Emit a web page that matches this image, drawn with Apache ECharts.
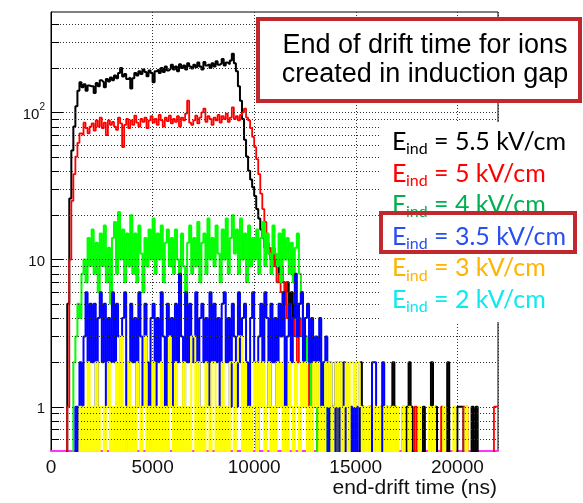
<!DOCTYPE html>
<html><head><meta charset="utf-8">
<script src="https://cdn.jsdelivr.net/npm/echarts@6/dist/echarts.min.js"></script>
<style>html,body{margin:0;padding:0;background:#fff}#c{width:583px;height:503px}</style>
</head><body><div id="c"></div>
<script>
// ---- data (100 ns bins starting at 0 ns) ----
const binWidth = 100;
const xTickLabels = [0, 5000, 10000, 15000, 20000];
const yMajorTicks = [1, 10, 100];
const yMinorTicks = [0.6, 0.7, 0.8, 0.9, 2, 3, 4, 5, 6, 7, 8, 9, 20, 30, 40, 50, 60, 70, 80, 90, 200, 300, 400];
const legendValues = ['5.5', '5', '4', '3.5', '3', '2'];
const titleLines = ['End of drift time for ions', 'created in induction gap'];
const xAxisTitle = 'end-drift time (ns)';

const eind55 = [
0,0,0,0,0,0,0,0,5,26,
55,80,110,140,160,148,155,140,152,150,
150,135,158,150,165,160,148,168,162,172,
165,178,170,185,200,175,182,168,172,145,
170,185,178,190,182,195,188,176,192,185,
160,190,195,185,200,188,205,192,198,210,
195,205,190,212,200,208,195,215,205,198,
210,202,218,205,195,220,208,212,200,215,
205,222,210,215,230,208,218,212,225,250,
215,190,150,120,90,65,50,40,35,31,
27,22,19,16,14,12,13,11,10,12,
9,10,8,9,7,6,7,5,6,4,
5,3,5,6,4,3,2,3,3,1,
2,1,0,1,1,0,1,0,1,0,
1,0,2,1,0,0,0,1,0,0,
0,0,2,1,0,0,0,1,0,0,
0,0,0,0,0,0,0,1,2,1,
0,0,0,0,0,1,2,1,0,0,
0,0,0,1,0,0,0,2,0,1,
0,0,0,0,0,2,0,0,0,0,
1,1,1,0,0,0,0,1,0,1,
0,0,0,0,0,0,0,0,0,0];

const eind5 = [
0,0,0,0,0,0,0,0,1,10,
25,38,50,62,72,70,85,78,72,80,
84,75,88,80,92,78,85,70,88,82,
86,80,76,92,84,58,82,90,78,88,
82,95,85,80,90,86,92,78,88,94,
85,90,82,96,88,80,92,87,95,84,
90,86,94,80,92,88,98,120,85,82,
88,95,84,92,100,106,86,94,90,82,
92,88,96,85,94,90,98,86,92,108,
90,94,88,96,100,106,92,88,78,68,
58,48,38,28,22,18,15,12,10,11,
9,7,8,6,5,7,4,5,3,4,
3,2,4,3,2,1,2,0,1,2,
1,0,1,0,0,1,0,0,0,1,
0,1,0,0,0,0,0,0,0,0,
0,0,0,0,0,0,1,0,0,0,
0,0,1,0,0,0,0,0,0,0,
0,0,0,1,0,0,0,0,0,1,
0,0,0,0,0,0,0,0,0,0,
0,0,1,0,0,0,0,0,0,0,
0,0,0,1,1,0,0,0,0,0,
0,0,0,0,0,0,0,0,1,1];

const eind4 = [
0,0,0,0,0,0,0,0,0,0,
0,2,3,5,4,8,10,7,14,9,
16,8,13,6,15,9,17,7,12,5,
14,18,8,21,10,16,7,15,9,20,
8,15,7,17,11,6,14,9,16,10,
19,8,15,10,17,7,13,16,9,14,
8,16,10,6,15,9,5,13,17,8,
14,9,18,7,13,15,8,19,10,14,
9,17,11,7,16,10,19,8,14,20,
11,16,8,19,10,15,7,17,9,14,
10,16,8,14,18,9,15,11,8,17,
11,9,15,7,16,10,14,8,13,7,
12,15,8,5,4,3,2,3,1,2,
1,0,1,2,1,0,1,0,0,1,
0,0,1,0,0,0,0,0,0,0,
0,0,0,0,0,0,0,0,0,0,
0,0,0,0,0,0,0,0,0,0,
0,0,0,0,0,0,0,0,0,0,
0,0,0,0,0,0,0,0,0,0,
0,0,0,0,0,0,0,0,0,0,
0,0,0,0,0,0,0,0,0,0,
0,0,0,0,0,0,0,0,0,0];

const eind35 = [
0,0,0,0,0,0,0,0,0,0,
0,0,1,0,2,1,3,6,2,5,
2,5,1,4,6,2,5,1,4,2,
6,2,5,3,1,4,6,0,2,5,
2,4,1,6,3,1,5,2,0,4,
5,1,4,2,6,3,1,5,2,4,
1,5,2,8,3,1,6,2,5,3,
2,6,1,4,5,2,4,1,6,2,
5,2,4,1,5,6,2,4,1,5,
3,1,6,2,4,5,2,1,4,6,
2,0,3,5,2,6,4,1,5,2,
4,1,5,3,6,0,3,5,2,4,
8,3,5,6,2,4,5,2,4,1,
3,1,4,1,2,3,0,2,1,0,
2,1,0,1,2,0,1,0,1,0,
1,0,0,1,0,0,0,0,2,2,
0,0,0,2,0,1,0,0,0,0,
0,0,0,0,0,0,0,0,0,0,
0,0,0,0,0,0,0,0,0,0,
0,0,0,0,0,0,0,0,0,0,
0,0,0,0,0,0,0,0,0,0,
0,0,0,0,0,0,0,0,0,0];

const eind3 = [
0,0,0,0,0,0,0,0,0,0,
0,0,0,0,1,0,1,0,2,0,
1,0,2,0,1,1,0,1,2,0,
1,0,2,0,3,0,1,0,2,0,
1,0,2,1,0,1,3,0,1,0,
2,0,1,0,2,0,1,0,3,1,
0,2,0,1,0,2,0,1,0,3,
3,0,2,0,1,0,2,1,0,2,
2,0,1,0,2,0,1,0,2,2,
0,2,3,3,0,2,0,1,0,1,
2,0,2,1,2,0,1,2,0,1,
0,2,1,2,0,1,0,2,1,0,
2,1,0,2,1,2,0,1,0,2,
1,2,0,1,0,2,1,2,0,1,
2,1,2,0,1,2,0,2,2,1,
2,2,1,0,1,0,1,0,0,1,
0,1,0,0,1,0,1,0,1,0,
1,0,0,1,0,0,1,0,0,0,
0,1,0,0,0,0,1,0,1,0,
0,0,0,1,0,0,0,0,1,0,
0,0,0,0,1,0,0,0,0,0,
0,0,0,0,0,0,0,0,0,0];

// ---- helpers ----
const X_MAX = 22000, Y_MIN = 0.5, Y_MAX = 480, ZERO_FLOOR = 0.1;
function toSteps(vals) {
  const pts = vals.map((v, i) => [i * binWidth, v > 0 ? v : ZERO_FLOOR]);
  pts.push([vals.length * binWidth, pts[pts.length - 1][1]]);
  return pts;
}
function histSeries(name, vals, color, width) {
  return { name, type: 'line', step: 'end', data: toSteps(vals), showSymbol: false, symbol: 'none',
    lineStyle: { color, width }, clip: true, animation: false, z: 2 };
}
const allGrid = yMinorTicks.concat(yMajorTicks);
const chart = echarts.init(document.getElementById('c'), null, { renderer: 'canvas' });

const sans = '"Liberation Sans", Arial, sans-serif';
const legendFont = 'Lato, "Open Sans", sans-serif';
const legendColors = ['#000000', '#ff0000', '#00b050', '#2a4ff0', '#ffb400', '#10e8f0'];
const graphics = [
  { type: 'rect', shape: { x: 381, y: 122, width: 210, height: 200 }, style: { fill: '#fff' }, z: 100 },
  { type: 'rect', shape: { x: 258, y: 19, width: 322, height: 82 }, style: { fill: '#fff', stroke: '#c0282d', lineWidth: 4 }, z: 100 },
  { type: 'text', z: 101, style: { text: titleLines[0], x: 425, y: 46, align: 'center', verticalAlign: 'middle', font: '27px ' + sans, fill: '#000' } },
  { type: 'text', z: 101, style: { text: titleLines[1], x: 425, y: 75, align: 'center', verticalAlign: 'middle', font: '27px ' + sans, fill: '#000' } },
  { type: 'text', z: 101, style: { text: xAxisTitle, x: 497, y: 488, align: 'right', verticalAlign: 'middle', font: '21px ' + sans, fill: '#111' } },
  { type: 'rect', z: 102, shape: { x: 381, y: 213, width: 194, height: 39 }, style: { fill: 'none', stroke: '#c0282d', lineWidth: 4 } }
];
legendValues.forEach((v, i) => {
  const base = 150 + 31.6 * i;
  const c = legendColors[i];
  graphics.push({ type: 'text', z: 101, style: { text: 'E', x: 392, y: base - 8, verticalAlign: 'middle', font: '25px ' + legendFont, fill: c } });
  graphics.push({ type: 'text', z: 101, style: { text: 'ind', x: 406, y: base - 1, verticalAlign: 'middle', font: '16px ' + legendFont, fill: c } });
  graphics.push({ type: 'text', z: 101, style: { text: '= ' + v + ' kV/cm', x: 434, y: base - 8, verticalAlign: 'middle', font: '25px ' + legendFont, fill: c } });
});

const option = {
  animation: false,
  backgroundColor: '#fff',
  grid: { left: 51, right: 85, top: 12, bottom: 52, show: true, borderColor: '#000', borderWidth: 1, outerBoundsMode: 'none' },
  xAxis: {
    type: 'value', min: 0, max: X_MAX, interval: 5000,
    axisLine: { show: true, onZero: false, lineStyle: { color: '#ff33ff', width: 2 } },
    axisTick: { show: false },
    axisLabel: { fontFamily: 'Liberation Sans', fontSize: 19, color: '#111', margin: 7,
      formatter: v => xTickLabels.includes(v) ? String(v) : '' },
    splitLine: { show: true, lineStyle: { color: '#333', type: [1, 2], width: 1 } }
  },
  yAxis: {
    type: 'log', logBase: 10, min: Y_MIN, max: Y_MAX,
    axisLine: { show: true, lineStyle: { color: '#000', width: 1 } },
    axisTick: { show: false },
    splitLine: { show: false },
    axisLabel: { fontFamily: 'Liberation Sans', fontSize: 15, color: '#111', margin: 6,
      formatter: v => {
        if (Math.abs(v - 1) < 1e-6) return '{b|1}';
        if (Math.abs(v - 10) < 1e-6) return '{b|10}';
        if (Math.abs(v - 100) < 1e-4) return '{b|10}{s|2}';
        return '';
      },
      rich: {
        b: { fontFamily: 'Liberation Sans', fontSize: 15, color: '#111', lineHeight: 20, verticalAlign: 'bottom' },
        s: { fontFamily: 'Liberation Sans', fontSize: 10, color: '#111', lineHeight: 20, verticalAlign: 'top' }
      }
    }
  },
  graphic: graphics,
  series: [
    histSeries('5.5', eind55, '#000000', 2),
    histSeries('5', eind5, '#ff0000', 1.8),
    histSeries('4', eind4, '#00ff00', 2),
    histSeries('3.5', eind35, '#0000ff', 2),
    histSeries('3', eind3, '#ffff00', 2),
    { type: 'custom', silent: true, animation: false, z: 5, clip: true,
      data: allGrid.map(v => [0, v]),
      renderItem: (params, api) => {
        const v = api.value(1);
        const p0 = api.coord([0, v]), p1 = api.coord([X_MAX, v]);
        const y = Math.round(p0[1]) + 0.5;
        return { type: 'line', shape: { x1: p0[0], y1: y, x2: p1[0], y2: y },
          style: { stroke: '#333', lineWidth: 1, lineDash: [1, 2] } };
      } },
    { type: 'custom', silent: true, animation: false, z: 6,
      data: allGrid.map(v => [0, v]),
      renderItem: (params, api) => {
        const v = api.value(1);
        const p0 = api.coord([0, v]);
        const y = Math.round(p0[1]) + 0.5;
        const len = yMajorTicks.includes(v) ? 12 : 8;
        return { type: 'line', shape: { x1: p0[0], y1: y, x2: p0[0] + len, y2: y },
          style: { stroke: '#000', lineWidth: 1 } };
      } }
  ]
};
chart.setOption(option);
</script></body></html>
